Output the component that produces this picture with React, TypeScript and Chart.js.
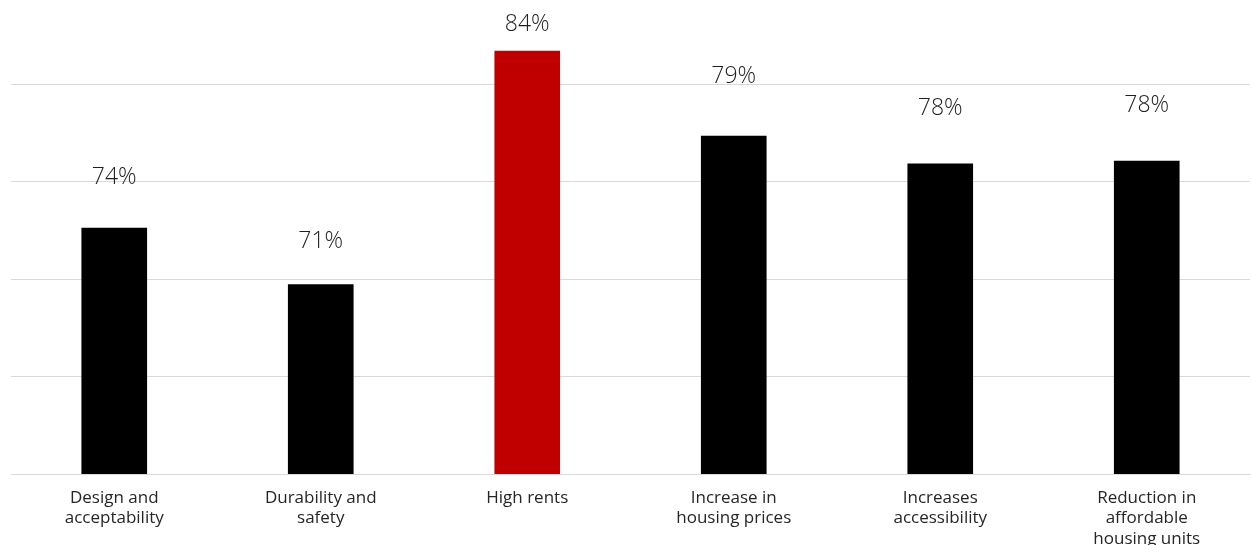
import React, { useEffect, useRef } from "react";
import { Chart, registerables } from "chart.js";

Chart.register(...registerables);

const categories: string[][] = [
  ["Design and", "acceptability"],
  ["Durability and", "safety"],
  ["High rents"],
  ["Increase in", "housing prices"],
  ["Increases", "accessibility"],
  ["Reduction in", "affordable", "housing units"],
];
const values: number[] = [73.9, 70.7, 83.9, 79.1, 77.52, 77.68];
const barColors: string[] = ["#000000", "#000000", "#c00000", "#000000", "#000000", "#000000"];
const gridTicks: number[] = [60, 65.5, 71, 76.5, 82];
// distance (px) from bar top to label baseline, as placed in the original
const labelGaps: number[] = [44, 37, 20, 53, 49, 49];

const FONT = "'Open Sans', 'Noto Sans', sans-serif";

const valueLabels = {
  id: "valueLabels",
  afterDatasetsDraw(chart: any) {
    const ctx = chart.ctx;
    const meta = chart.getDatasetMeta(0);
    ctx.save();
    ctx.font = `300 23px ${FONT}`;
    ctx.fillStyle = "#1f1f1f";
    ctx.textAlign = "center";
    ctx.textBaseline = "alphabetic";
    meta.data.forEach((bar: any, i: number) => {
      const v = values[i];
      ctx.fillText(`${Math.round(v)}%`, bar.x, bar.y - labelGaps[i]);
    });
    ctx.restore();
  },
};

export default function App() {
  const ref = useRef<HTMLCanvasElement | null>(null);
  useEffect(() => {
    document.body.style.margin = "0";
    if (!ref.current) return;
    const chart = new Chart(ref.current, {
      type: "bar",
      data: {
        labels: categories,
        datasets: [
          {
            data: values,
            backgroundColor: barColors,
            borderWidth: 0,
            barThickness: 65,
          },
        ],
      },
      options: {
        responsive: false,
        animation: false,
        events: [],
        layout: { padding: { left: 11, right: 2, top: 5, bottom: 0 } },
        plugins: {
          legend: { display: false },
          tooltip: { enabled: false },
          title: { display: false },
        },
        scales: {
          x: {
            grid: { display: false },
            border: { display: true, color: "#d9d9d9", width: 1 },
            ticks: {
              color: "#262626",
              font: { family: FONT, size: 17, weight: "400", lineHeight: 1.2 },
              padding: 6,
              maxRotation: 0,
              autoSkip: false,
            },
            afterFit: (s: any) => {
              s.height = 71;
            },
          },
          y: {
            min: 60,
            max: 86.5,
            grid: { color: "#d9d9d9", lineWidth: 1, drawTicks: false },
            border: { display: false },
            ticks: { display: false },
            afterBuildTicks: (s: any) => {
              s.ticks = gridTicks.map((v) => ({ value: v }));
            },
            afterFit: (s: any) => {
              s.width = 0;
            },
          },
        },
      },
      plugins: [valueLabels],
    });
    return () => chart.destroy();
  }, []);
  return (
    <div style={{ width: 1252, height: 545, background: "#fff" }}>
      <canvas ref={ref} width={1252} height={545} style={{ display: "block" }} />
    </div>
  );
}
